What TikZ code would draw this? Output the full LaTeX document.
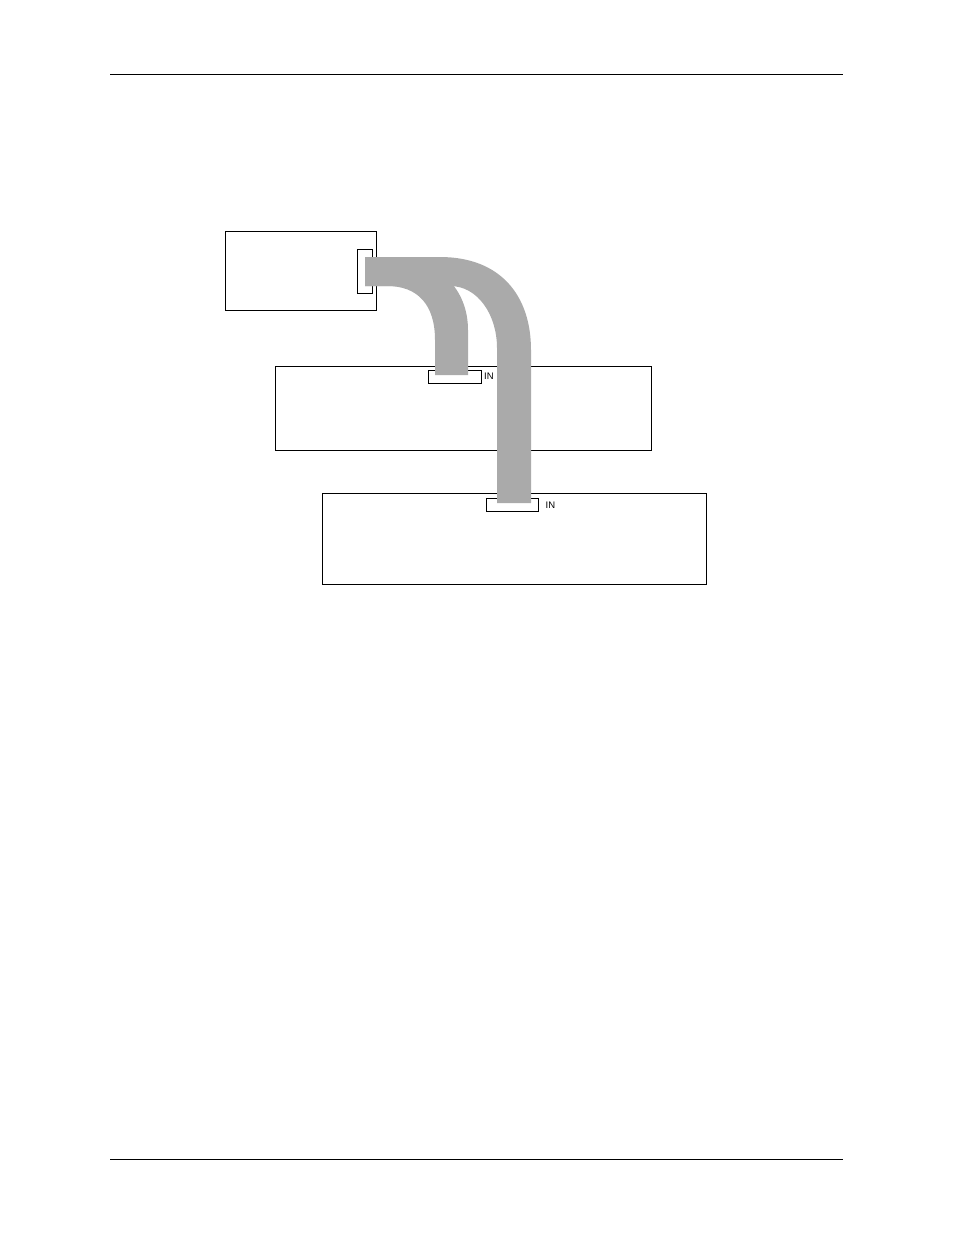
\documentclass[tikz,border=0pt]{standalone}
\usepackage{fontspec}
\setmainfont{Liberation Sans}
\definecolor{cablegray}{RGB}{170,170,170}
\begin{document}
\begin{tikzpicture}[x=1pt,y=-1pt,
  box/.style={draw,line width=1pt,fill=white,inner sep=0pt,anchor=north west},
  conn/.style={draw,line width=1.4pt,fill=white,inner sep=0pt,anchor=north west},
  cable/.style={fill=cablegray},
  rule/.style={line width=0.8pt},
  lbl/.style={font=\fontsize{9.5}{10}\selectfont,inner sep=0pt,anchor=west}]
\useasboundingbox (0,0) rectangle (954,1235);
% page rules
\draw[rule] (110,74) -- (843,74);
\draw[rule] (110,1159) -- (843,1159);
% boxes
\node[box,minimum width=151pt,minimum height=79pt] (src) at (225,231) {};
\node[box,minimum width=376pt,minimum height=84pt] (mid) at (275,366) {};
\node[box,minimum width=384pt,minimum height=91pt] (bot) at (322,493) {};
% connectors
\node[conn,minimum width=15pt,minimum height=44pt] (srcconn) at (357,249) {};
\node[conn,minimum width=53pt,minimum height=13pt] (midin) at (428,370) {};
\node[conn,minimum width=52pt,minimum height=13pt] (botin) at (486,498) {};
\node[lbl] (midlbl) at (484,376.5) {IN};
\node[lbl] (botlbl) at (545.5,505.5) {IN};
% cables
\fill[cable] (365,257) -- (440,257) .. controls (500,257) and (531,295) .. (531,350)
  -- (531,503) -- (497,503) -- (497,348) .. controls (497,315) and (478,286) .. (450,286)
  -- (365,286) -- cycle;
\fill[cable] (365,257) -- (385,257) .. controls (440,257) and (468,290) .. (468,330)
  -- (468,375) -- (435,375) -- (435,340) .. controls (435,305) and (418,286) .. (387,286)
  -- (365,286) -- cycle;
\end{tikzpicture}
\end{document}
